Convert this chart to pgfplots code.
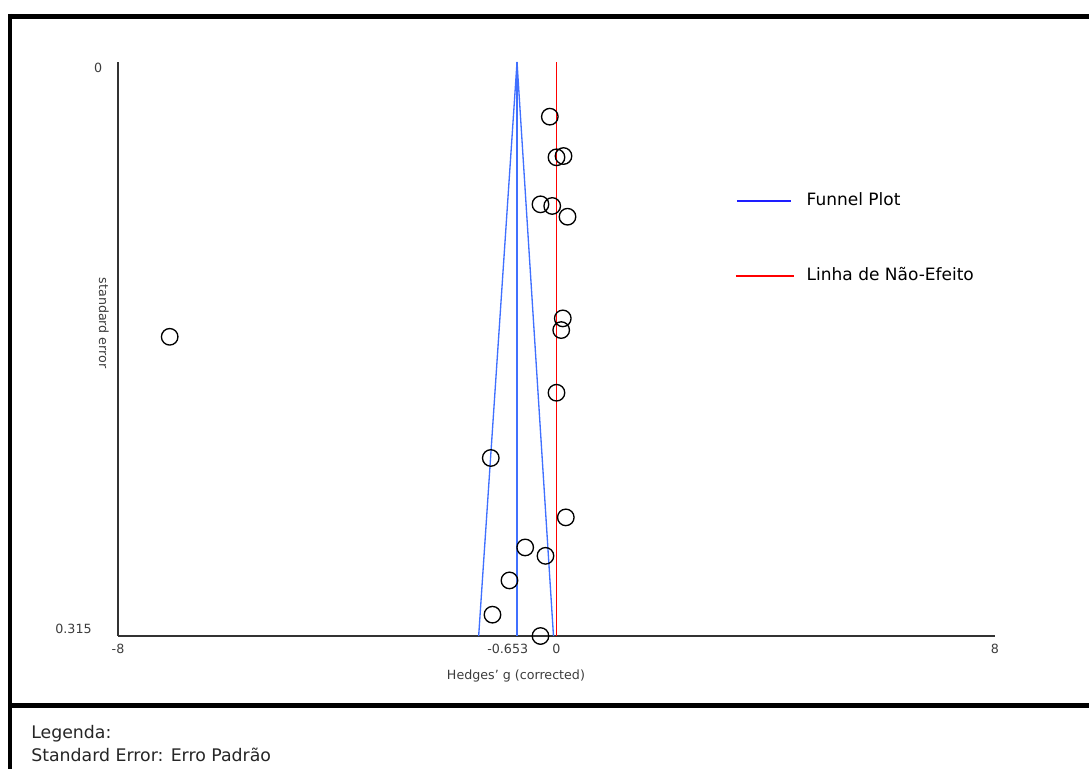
\documentclass[border=0pt]{standalone}
\usepackage{fontspec}
\setmainfont{DejaVu Sans}
\usepackage{pgfplots}
\pgfplotsset{compat=1.18}
\definecolor{funnelblue}{RGB}{64,112,255}
\definecolor{legblue}{RGB}{30,30,255}
\definecolor{axgray}{RGB}{51,51,51}
\definecolor{txtgray}{RGB}{60,60,60}
\pgfplotstableread{
x y
-0.122 0.0300
0.000 0.0523
0.128 0.0516
-0.292 0.0781
-0.078 0.0790
0.201 0.0849
0.115 0.1407
0.086 0.1471
0.000 0.1815
-1.199 0.2173
0.170 0.2499
-0.571 0.2664
-0.201 0.2710
-0.858 0.2845
-1.168 0.3033
-0.292 0.3150
-7.057 0.1508
}\studies
\begin{document}
\begin{tikzpicture}
\path[use as bounding box] (0pt,0pt) rectangle (816.75pt,576.75pt);
\draw[line width=3.75pt] (6pt,564.375pt) -- (816.75pt,564.375pt);
\draw[line width=3pt] (7.5pt,566.25pt) -- (7.5pt,0pt);
\draw[line width=3.75pt] (6pt,47.625pt) -- (816.75pt,47.625pt);
\node[anchor=west, inner sep=0pt, text=black!85, font=\fontsize{13}{15}\selectfont] at (23.25pt,26.5pt) {Legenda:};
\node[anchor=west, inner sep=0pt, text=black!85, font=\fontsize{13}{15}\selectfont] at (23.25pt,10.5pt) {Standard Error: Erro Padrão};
\begin{axis}[
  at={(88.5pt,99.75pt)}, anchor=south west,
  scale only axis, width=657.75pt, height=430.5pt,
  xmin=-8, xmax=8, ymin=0, ymax=0.315,
  y dir=reverse,
  axis x line=bottom, axis y line=left,
  axis line style={-, axgray, line width=1.3pt},
  major tick length=0pt,
  clip=false,
  /pgf/number format/assume math mode=true,
  xtick={-8,0,8},
  xticklabels={-8,0,8},
  extra x ticks={-0.653},
  extra x tick labels={-0.653},
  extra x tick style={tick label style={xshift=-9.75pt}},
  ytick={0},
  yticklabels={0},
  extra y ticks={0.315},
  extra y tick labels={0.315},
  extra y tick style={tick label style={xshift=-8pt, yshift=9.75pt}},
  tick label style={font=\fontsize{9.5}{11}\selectfont, text=txtgray},
  xticklabel style={yshift=-2.25pt},
  yticklabel style={xshift=-8.25pt, yshift=-4.5pt},
  xlabel={Hedges' g (corrected)},
  xlabel style={at={(axis description cs:0.4538,-0.0697)}, anchor=center, font=\fontsize{9.5}{11}\selectfont, text=txtgray},
  ylabel={standard error},
  ylabel style={at={(axis description cs:-0.0160,0.545)}, anchor=center, rotate=180, font=\fontsize{9.5}{11}\selectfont, text=txtgray},
  legend style={at={(axis description cs:0.7035,0.6925)}, anchor=west, draw=none, fill=none,
    font=\fontsize{12.75}{15}\selectfont, row sep=44pt, inner sep=0pt,
    nodes={inner sep=0pt, text height=9.5pt, text depth=2.5pt},
    /tikz/every odd column/.append style={column sep=9pt}},
  legend cell align=left,
]
\addlegendimage{legend image code/.code={\draw[legblue, line width=1.1pt] (0.75pt,0pt) -- (41.25pt,0pt);}}
\addlegendentry{Funnel Plot}
\addlegendimage{legend image code/.code={\draw[red, line width=1.1pt] (0pt,0pt) -- (43.5pt,0pt);}}
\addlegendentry{Linha de Não-Efeito}
\addplot[funnelblue, line width=1pt, forget plot] coordinates {(-0.72,0) (-0.72,0.315)};
\addplot[funnelblue, line width=1pt, forget plot] coordinates {(-1.42,0.315) (-0.72,0) (-0.055,0.315)};
\addplot[red, line width=1.2pt, forget plot] coordinates {(0,0) (0,0.315)};
\addplot[only marks, mark=o, mark size=6.2pt, black, mark options={line width=1pt}, forget plot] table[x=x, y=y] {\studies};
\end{axis}
\end{tikzpicture}
\end{document}
